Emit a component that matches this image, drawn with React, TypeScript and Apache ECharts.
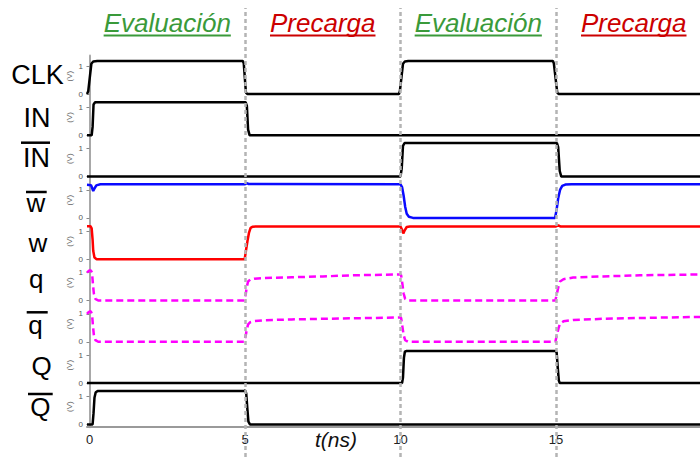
import React, { useEffect, useRef } from 'react';
import * as echarts from 'echarts';

// ---------- data ----------
const signalNames = ['CLK', 'IN', 'IN', 'w', 'w', 'q', 'q', 'Q', 'Q'];
const overlined = [false, false, true, true, false, false, true, false, true];
const signalColors = ['#000000', '#000000', '#000000', '#0a0aff', '#ff0000', '#ff00ff', '#ff00ff', '#000000', '#000000'];
const dashedSignals = [false, false, false, false, false, true, true, false, false];
const phaseLabels = ['Evaluación', 'Precarga', 'Evaluación', 'Precarga'];
const phaseColors = ['#3a9a3a', '#cc0000', '#3a9a3a', '#cc0000'];
const phaseCenters = [2.5, 7.5, 12.5, 17.5];
const phaseBoundaries = [5, 10, 15];
const timeTicks = [0, 5, 10, 15];
const voltTicks = [0, 1];
const timeAxisLabel = 't(ns)';
const voltAxisLabel = '(V)';

const clk = [[-0.08, 0], [-0.04, 0.1], [0.06, 1.08], [0.12, 1.16], [0.25, 1.18], [4.93, 1.18], [4.96, 1.1], [5.03, 0.05], [5.08, 0], [9.95, 0], [9.98, 0.1], [10.08, 1.08], [10.14, 1.16], [10.25, 1.18], [14.9, 1.18], [14.93, 1.1], [15.04, 0.05], [15.09, 0], [19.63, 0]];
const inSig = [[-0.08, 0], [0.07, 0], [0.1, 0.3], [0.13, 1.1], [0.18, 1.18], [5.02, 1.18], [5.06, 1.05], [5.1, 0.2], [5.15, 0], [19.63, 0]];
const inBar = [[-0.08, 0], [10.0, 0], [10.04, 0.3], [10.08, 1.1], [10.13, 1.2], [15.03, 1.2], [15.07, 1.05], [15.12, 0.2], [15.17, 0], [19.63, 0]];
const wBar = [[-0.08, 1.18], [0.05, 1.17], [0.09, 1.05], [0.12, 0.96], [0.16, 1.05], [0.22, 1.16], [0.35, 1.2], [5.0, 1.2], [5.05, 1.24], [5.12, 1.21], [10.0, 1.2], [10.05, 1.1], [10.1, 0.8], [10.15, 0.4], [10.2, 0.15], [10.27, 0.04], [10.4, 0], [14.97, 0], [15.02, 0.3], [15.07, 0.7], [15.13, 1.0], [15.2, 1.14], [15.3, 1.19], [15.5, 1.2], [19.63, 1.2]];
const w = [[-0.08, 1.18], [0.03, 1.18], [0.07, 1.1], [0.1, 0.7], [0.12, 0.3], [0.16, 0.06], [0.23, 0], [4.99, 0], [5.03, 0.3], [5.08, 0.65], [5.13, 0.95], [5.18, 1.12], [5.25, 1.16], [5.35, 1.17], [10.0, 1.17], [10.05, 1.05], [10.09, 0.92], [10.13, 1.02], [10.2, 1.15], [10.3, 1.17], [15.0, 1.17], [15.07, 1.21], [15.14, 1.17], [19.63, 1.17]];
const q = [[-0.08, 1.0], [-0.02, 1.06], [0.04, 1.08], [0.08, 1.0], [0.11, 0.6], [0.14, 0.25], [0.19, 0.06], [0.28, 0], [4.97, 0], [5.02, 0.2], [5.06, 0.5], [5.1, 0.68], [5.17, 0.75], [5.3, 0.78], [5.6, 0.8], [6.5, 0.83], [7.5, 0.86], [8.5, 0.9], [9.5, 0.92], [10.0, 0.93], [10.02, 0.9], [10.06, 0.6], [10.1, 0.25], [10.15, 0.06], [10.25, 0], [14.98, 0], [15.03, 0.25], [15.08, 0.5], [15.13, 0.68], [15.24, 0.76], [15.55, 0.82], [16.5, 0.86], [17.7, 0.9], [19.63, 0.93]];
const qBar = [[-0.08, 1.0], [-0.02, 1.07], [0.04, 1.09], [0.08, 1.0], [0.11, 0.6], [0.14, 0.25], [0.19, 0.06], [0.28, 0], [4.97, 0], [5.02, 0.2], [5.06, 0.45], [5.1, 0.62], [5.17, 0.7], [5.3, 0.74], [5.6, 0.77], [6.5, 0.8], [7.5, 0.82], [8.5, 0.84], [9.5, 0.86], [10.0, 0.87], [10.02, 0.85], [10.06, 0.55], [10.1, 0.25], [10.15, 0.06], [10.25, 0], [14.98, 0], [15.03, 0.25], [15.08, 0.48], [15.13, 0.65], [15.24, 0.73], [15.55, 0.78], [16.5, 0.82], [17.7, 0.85], [19.63, 0.89]];
const bigQ = [[-0.08, 0], [10.05, 0], [10.08, 0.2], [10.11, 0.9], [10.14, 1.12], [10.2, 1.15], [14.98, 1.15], [15.02, 1.1], [15.06, 0.5], [15.09, 0.1], [15.12, 0], [19.63, 0]];
const bigQBar = [[-0.08, 0], [0.1, 0], [0.13, 0.4], [0.16, 0.95], [0.2, 1.15], [0.26, 1.19], [4.98, 1.19], [5.01, 1.22], [5.04, 1.1], [5.08, 0.5], [5.11, 0.1], [5.16, 0], [19.63, 0]];

const signals = [clk, inSig, inBar, wBar, w, q, qBar, bigQ, bigQBar];

// ---------- layout ----------
const W = 700;
const H = 457;
const LEFT = 87;
const XMIN = -0.08;
const XMAX = 19.63;
const Z0 = 94; // pixel of the first panel's 0 V
const PITCH = 41.3;
const PXV = 28;
const YMIN = -0.1;
const YMAX = PITCH / PXV + YMIN;
const FONT = '"Liberation Sans", Arial, Helvetica, sans-serif';
const BASE_SHIFT = 3; // bottom-of-box to baseline offset

const labelPos = [
  { x: 37.5, y: 85, size: 27, ol: null },
  { x: 37, y: 128, size: 27, ol: null },
  { x: 36.5, y: 168, size: 27, ol: [21, 50, 142.7] },
  { x: 36, y: 213, size: 26, ol: [26, 46.7, 192] },
  { x: 38, y: 252.5, size: 26, ol: null },
  { x: 36.3, y: 288.5, size: 26, ol: null },
  { x: 35.5, y: 334.5, size: 26, ol: [26.7, 47.7, 312.3] },
  { x: 41.7, y: 376, size: 26, ol: null },
  { x: 40.3, y: 417, size: 26, ol: [28, 52.7, 394] },
];

const xpx = (t: number) => LEFT + ((t - XMIN) * (W - LEFT)) / (XMAX - XMIN);

export default function App() {
  const ref = useRef<HTMLDivElement>(null);
  useEffect(() => {
    if (!ref.current) return;
    const chart = echarts.init(ref.current, undefined, { renderer: 'svg' });
    const n = signals.length;
    const grids: any[] = [];
    const xAxes: any[] = [];
    const yAxes: any[] = [];
    const series: any[] = [];
    for (let k = 0; k < n; k++) {
      const zero = Z0 + PITCH * k;
      grids.push({ left: LEFT, right: 0, top: zero - YMAX * PXV, height: PITCH });
      const last = k === n - 1;
      xAxes.push({
        gridIndex: k,
        type: 'value',
        min: XMIN,
        max: XMAX,
        show: last,
        splitLine: { show: false },
        axisLine: { show: last, onZero: false, lineStyle: { color: '#9a9a9a', width: 2 } },
        axisTick: { show: false },
        axisLabel: {
          show: last,
          customValues: timeTicks,
          fontSize: 13,
          color: '#222',
          fontFamily: FONT,
          margin: 6,
        },
      });
      yAxes.push({
        gridIndex: k,
        type: 'value',
        min: YMIN,
        max: YMAX,
        splitLine: { show: false },
        axisLine: { show: true, lineStyle: { color: '#a8a8a8', width: 2 } },
        axisTick: { show: true, customValues: voltTicks, length: 3, lineStyle: { color: '#888', width: 1 } },
        axisLabel: { customValues: voltTicks, fontSize: 8, color: '#555', fontFamily: FONT, margin: 4 },
        name: voltAxisLabel,
        nameLocation: 'middle',
        nameRotate: 90,
        nameGap: 14,
        nameMoveOverlap: false,
        nameTextStyle: { fontSize: 8, color: '#666', fontFamily: FONT },
      });
      series.push({
        type: 'line',
        xAxisIndex: k,
        yAxisIndex: k,
        data: signals[k],
        showSymbol: false,
        symbol: 'none',
        clip: false,
        z: 3,
        lineStyle: {
          color: signalColors[k],
          width: 2.5,
          type: dashedSignals[k] ? [7, 4] : 'solid',
        },
      });
    }
    // overlay grid for the phase boundary lines
    grids.push({ left: LEFT, right: 0, top: 8, bottom: 0 });
    xAxes.push({ gridIndex: n, type: 'value', min: XMIN, max: XMAX, show: false });
    yAxes.push({ gridIndex: n, type: 'value', min: 0, max: 1, show: false });
    series.push({
      type: 'line',
      xAxisIndex: n,
      yAxisIndex: n,
      data: [],
      z: 6,
      markLine: {
        silent: true,
        symbol: ['none', 'none'],
        label: { show: false },
        lineStyle: { color: '#b4b4b4', width: 2.5, type: [4, 3] },
        data: phaseBoundaries.map((v) => ({ xAxis: v })),
      },
    });

    const graphic: any[] = [];
    signalNames.forEach((name, k) => {
      const p = labelPos[k];
      graphic.push({
        type: 'text',
        x: p.x,
        y: p.y + BASE_SHIFT,
        style: {
          text: name,
          fontSize: p.size,
          fontFamily: FONT,
          fill: '#000',
          align: 'center',
          verticalAlign: 'bottom',
        },
      });
      if (overlined[k] && p.ol) {
        graphic.push({
          type: 'line',
          shape: { x1: p.ol[0], y1: p.ol[2], x2: p.ol[1], y2: p.ol[2] },
          style: { stroke: '#000', lineWidth: 2.5 },
        });
      }
    });
    phaseLabels.forEach((lab, i) => {
      const cx = xpx(phaseCenters[i]);
      const fontSize = 26;
      const rect = (echarts.format as any).getTextRect
        ? (echarts.format as any).getTextRect(lab, `italic ${fontSize}px ${FONT}`)
        : null;
      const wdt = rect ? rect.width : lab.length * 13;
      graphic.push({
        type: 'text',
        x: cx,
        y: 33 + BASE_SHIFT,
        style: {
          text: lab,
          fontSize,
          fontStyle: 'italic',
          fontFamily: FONT,
          fill: phaseColors[i],
          align: 'center',
          verticalAlign: 'bottom',
        },
      });
      graphic.push({
        type: 'line',
        shape: { x1: cx - wdt / 2, y1: 35.5, x2: cx + wdt / 2, y2: 35.5 },
        style: { stroke: phaseColors[i], lineWidth: 2 },
      });
    });
    graphic.push({
      type: 'text',
      x: 336,
      y: 447 + BASE_SHIFT,
      style: {
        text: timeAxisLabel,
        fontSize: 21,
        fontStyle: 'italic',
        fontFamily: FONT,
        fill: '#111',
        align: 'center',
        verticalAlign: 'bottom',
      },
    });

    chart.setOption({
      animation: false,
      backgroundColor: '#ffffff',
      grid: grids,
      xAxis: xAxes,
      yAxis: yAxes,
      series,
      graphic,
    });
    return () => chart.dispose();
  }, []);
  return <div ref={ref} style={{ width: W, height: H, position: 'absolute', left: 0, top: 0 }} />;
}
